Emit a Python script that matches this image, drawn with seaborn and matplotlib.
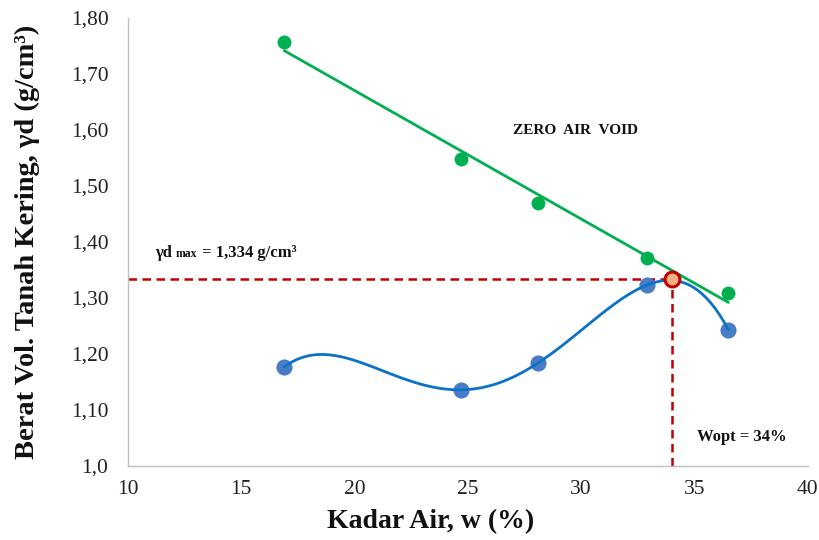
import numpy as np
import pandas as pd
import matplotlib
matplotlib.use("Agg")
import matplotlib.pyplot as plt
import seaborn as sns
from matplotlib.offsetbox import TextArea, HPacker, AnnotationBbox

# Compaction test results
water_content = [16.9, 24.7, 28.1, 32.9, 36.5]          # w (%)
dry_density = [1.177, 1.136, 1.184, 1.323, 1.243]       # γd (g/cm³)
zav_density = [1.757, 1.548, 1.470, 1.371, 1.309]       # zero air void γd (g/cm³)
w_opt = 34.0
gd_max = 1.334

x_ticks = [10, 15, 20, 25, 30, 35, 40]
y_ticks = [1.0, 1.1, 1.2, 1.3, 1.4, 1.5, 1.6, 1.7, 1.8]
y_tick_labels = ["1,0", "1,10", "1,20", "1,30", "1,40", "1,50", "1,60", "1,70", "1,80"]

df = pd.DataFrame({"w": water_content, "gd": dry_density, "zav": zav_density})

sns.set_theme(style="white")
plt.rcParams["font.family"] = ["Liberation Serif", "DejaVu Serif"]

fig = plt.figure(figsize=(8.2, 5.4), dpi=100)
ax = fig.add_axes([0.156, 0.137, 0.829, 0.830])

green = "#00B050"
blue_pt = "#4A7CC6"
blue_ln = "#0A72C8"
red = "#C00000"

# zero air void line (linear trend)
sns.regplot(data=df, x="w", y="zav", order=1, ci=None, ax=ax,
            scatter_kws=dict(s=100, color=green, linewidths=0, alpha=1, zorder=4),
            line_kws=dict(color=green, lw=2.0, zorder=3))

# compaction curve (polynomial trend)
sns.regplot(data=df, x="w", y="gd", order=4, ci=None, ax=ax,
            scatter_kws=dict(s=135, color=blue_pt, linewidths=0, alpha=1, zorder=4),
            line_kws=dict(color=blue_ln, lw=2.0, zorder=5))

# optimum markers
lw = 1.8
ax.plot([10, w_opt], [gd_max, gd_max], color=red, lw=lw, ls=(0, (3.4, 2.2)), zorder=2)
ax.plot([w_opt, w_opt], [1.0, gd_max], color=red, lw=lw, ls=(0, (3.4, 2.2)), zorder=2)
ax.scatter([w_opt], [gd_max], s=115, facecolor="#F4B183", edgecolor=red, linewidths=2.2, zorder=6)

ax.set_xlim(10, 40)
ax.set_ylim(1.0, 1.8)
ax.set_xticks(x_ticks)
ax.set_xticklabels([str(t) for t in x_ticks])
ax.set_yticks(y_ticks)
ax.set_yticklabels(y_tick_labels)
ax.tick_params(axis="both", length=0, labelsize=15.5, colors="#222222")
ax.tick_params(axis="y", pad=14)
ax.tick_params(axis="x", pad=10)

for side in ["top", "right"]:
    ax.spines[side].set_visible(False)
for side in ["left", "bottom"]:
    ax.spines[side].set_color("#BFBFBF")
    ax.spines[side].set_linewidth(1.0)

ax.set_xlabel("Kadar Air, w (%)", fontsize=20, fontweight="bold", color="#111111")
ax.xaxis.set_label_coords(0.446, -0.097)
ax.set_ylabel("Berat Vol. Tanah Kering, γd (g/cm³)", fontsize=20.5, fontweight="bold",
              labelpad=22, color="#111111")

ax.text(27.0, 1.598, "ZERO  AIR  VOID", fontsize=11, fontweight="bold", va="center", ha="left",
        color="#111111")
ax.text(35.1, 1.052, "Wopt = 34%", fontsize=12, fontweight="bold", va="center", ha="left",
        color="#111111")

parts = HPacker(children=[
    TextArea("γd ", textprops=dict(fontsize=12, fontweight="bold", color="#111111")),
    TextArea("max", textprops=dict(fontsize=8.5, fontweight="bold", color="#111111")),
    TextArea(" = 1,334 g/cm³", textprops=dict(fontsize=12, fontweight="bold", color="#111111")),
], align="baseline", pad=0, sep=0)
ab = AnnotationBbox(parts, (11.2, 1.380), xycoords="data", box_alignment=(0, 0.5), frameon=False)
ax.add_artist(ab)

fig.savefig("out.png", dpi=100, facecolor="white")
